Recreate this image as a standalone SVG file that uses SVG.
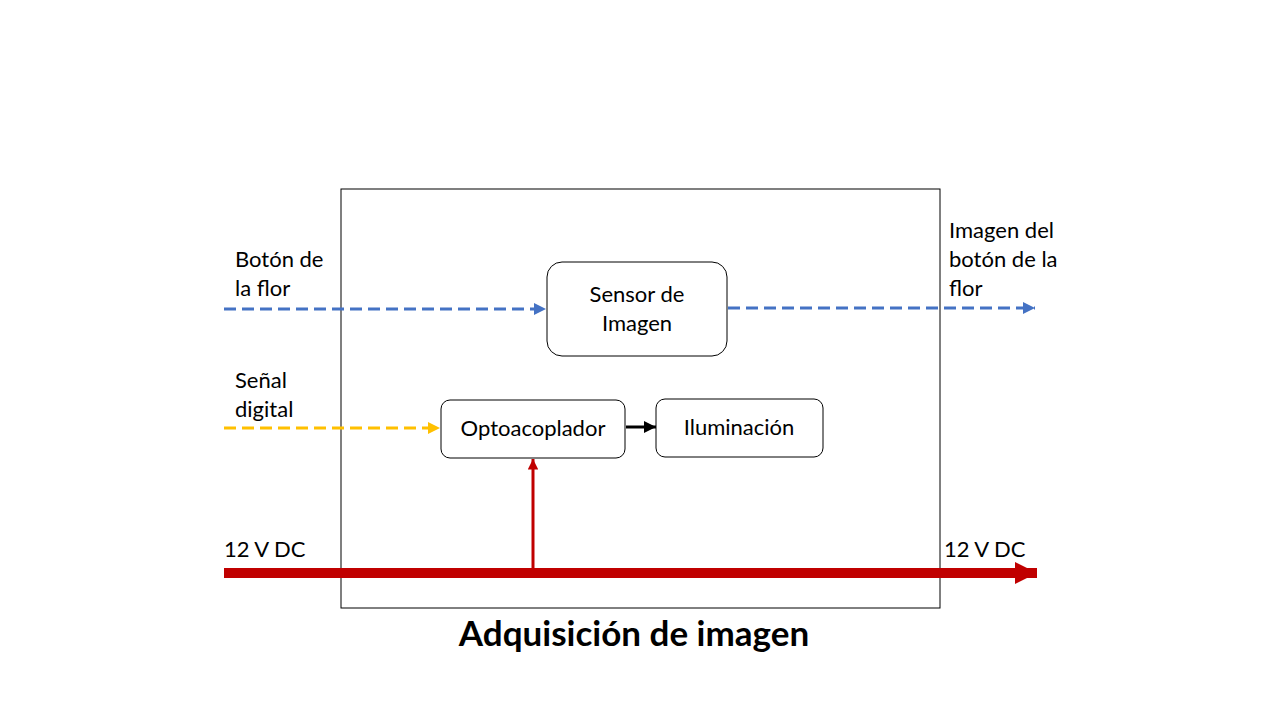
<svg xmlns="http://www.w3.org/2000/svg" width="1280" height="720" viewBox="0 0 1280 720">
<style>
text{font-family:Lato,"Noto Sans",sans-serif;fill:#000;font-size:22px}
.c{text-anchor:middle}
.box{fill:#fff;stroke:#000;stroke-width:1}
.blue{stroke:#4472C4;stroke-width:3;stroke-dasharray:12 6;fill:none}
.yel{stroke:#FFC000;stroke-width:3;stroke-dasharray:12 6;fill:none}
</style>
<defs>
<marker id="ab" viewBox="0 0 10 10" refX="10" refY="5" markerWidth="4" markerHeight="4" markerUnits="strokeWidth" orient="auto"><path d="M0,0L10,5L0,10z" fill="#4472C4"/></marker>
<marker id="ay" viewBox="0 0 10 10" refX="10" refY="5" markerWidth="4" markerHeight="4" markerUnits="strokeWidth" orient="auto"><path d="M0,0L10,5L0,10z" fill="#FFC000"/></marker>
<marker id="ak" viewBox="0 0 10 10" refX="10" refY="5" markerWidth="4" markerHeight="4" markerUnits="strokeWidth" orient="auto"><path d="M0,0L10,5L0,10z" fill="#000"/></marker>
<marker id="ar" viewBox="0 0 10 10" refX="10" refY="5" markerWidth="3.5" markerHeight="3.5" markerUnits="strokeWidth" orient="auto"><path d="M0,0L10,5L0,10z" fill="#C00000"/></marker>
<marker id="ar2" viewBox="0 0 10 10" refX="10" refY="5" markerWidth="2.2" markerHeight="2.2" markerUnits="strokeWidth" orient="auto"><path d="M0,0L10,5L0,10z" fill="#C00000"/></marker>
</defs>
<rect width="1280" height="720" fill="#fff"/>
<g id="bloque">
<rect x="341" y="189" width="599" height="419" fill="none" stroke="#000" stroke-width="1"/>
</g>
<g id="connectors">
<line class="blue" x1="224" y1="309" x2="546" y2="309" marker-end="url(#ab)"/>
<line class="blue" x1="728" y1="308" x2="1035" y2="308" marker-end="url(#ab)"/>
<line class="yel" x1="224" y1="428" x2="440" y2="428" marker-end="url(#ay)"/>
<line x1="626" y1="427" x2="656" y2="427" stroke="#000" stroke-width="3" marker-end="url(#ak)"/>
<line x1="224" y1="573" x2="1037" y2="573" stroke="#C00000" stroke-width="10" marker-end="url(#ar2)"/>
<line x1="533" y1="571" x2="533" y2="459" stroke="#C00000" stroke-width="3" marker-end="url(#ar)"/>
</g>
<g id="sensor">
<rect class="box" x="547" y="262" width="180" height="94" rx="15"/>
<text class="c" x="637" y="302">Sensor de</text>
<text class="c" x="637" y="331">Imagen</text>
</g>
<g id="optoacoplador">
<rect class="box" x="441" y="400" width="184" height="58" rx="9"/>
<text class="c" x="533" y="436">Optoacoplador</text>
</g>
<g id="iluminacion">
<rect class="box" x="656" y="399" width="167" height="58" rx="9"/>
<text class="c" x="739" y="435">Iluminación</text>
</g>
<g id="labels">
<text x="235" y="267">Botón de</text>
<text x="235" y="296">la flor</text>
<text x="235" y="388">Señal</text>
<text x="235" y="417">digital</text>
<text x="949" y="238">Imagen del</text>
<text x="949" y="267">botón de la</text>
<text x="949" y="296">flor</text>
<text x="224" y="557">12 V DC</text>
<text x="944" y="557">12 V DC</text>
<text class="c" x="634" y="646" style="font-size:35px;font-weight:bold">Adquisición de imagen</text>
</g>
</svg>
